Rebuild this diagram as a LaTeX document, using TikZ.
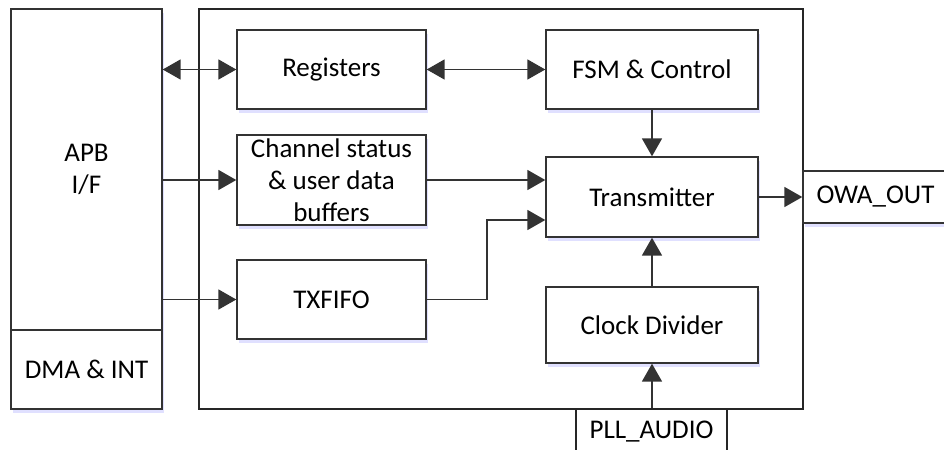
\documentclass[tikz,border=0pt]{standalone}
\usepackage{fontspec}
\setmainfont{Carlito}
\usetikzlibrary{arrows.meta,positioning,calc,shadows}

\begin{document}
\begin{tikzpicture}[
  x=0.5pt, y=-0.5pt,
  font=\fontsize{13.5}{16}\selectfont,
  block/.style={rectangle, draw=black!80, line width=0.7pt, fill=white, align=center, inner sep=0pt, drop shadow={shadow xshift=0.8pt, shadow yshift=-2pt, fill=blue!12, opacity=1}},
  frame/.style={rectangle, draw=black!85, line width=0.7pt, fill=white, align=center, inner sep=0pt},
  arrow/.style={-{Triangle[length=9pt,width=10pt]}, line width=0.9pt, draw=black!80},
  biarrow/.style={{Triangle[length=9pt,width=10pt]}-{Triangle[length=9pt,width=10pt]}, line width=0.9pt, draw=black!80},
]
\useasboundingbox (0,0) rectangle (944,450);

% Core frame and pins
\node[frame, minimum width=302pt, minimum height=200pt] (core) at (501,209) {};
\node[frame, minimum width=75.5pt, minimum height=23pt] (pll) at (651.5,432) {PLL\_AUDIO};
\node[block, minimum width=72.5pt, minimum height=26pt] (owa) at (875.5,197) {OWA\_OUT};

% Bus side
\node[block, minimum width=75.5pt, minimum height=160.5pt] (apb) at (86.5,169.5) {APB\\I/F};
\node[block, minimum width=75.5pt, minimum height=39.5pt] (dma) at (86.5,369.5) {DMA \& INT};

% Left column
\node[block, minimum width=94.5pt, minimum height=39.5pt] (regs) at (331.5,69.5) {Registers};
\node[block, minimum width=94.5pt, minimum height=45pt] (chan) at (331.5,180) {Channel status\\\& user data\\buffers};
\node[block, minimum width=94.5pt, minimum height=39.5pt] (txfifo) at (331.5,299.5) {TXFIFO};

% Right column
\node[block, minimum width=106pt, minimum height=39.5pt] (fsm) at (652,69.5) {FSM \& Control};
\node[block, minimum width=106pt, minimum height=40pt] (tx) at (652,197) {Transmitter};
\node[block, minimum width=106pt, minimum height=38pt] (clkdiv) at (652,325) {Clock Divider};

% Arrows
\draw[biarrow] (apb.east |- regs.west) -- (regs.west);
\draw[biarrow] (regs.east) -- (regs.east -| fsm.west);
\draw[arrow] (apb.east |- chan.west) -- (chan.west);
\draw[arrow] (apb.east |- txfifo.west) -- (txfifo.west);
\draw[arrow] (chan.east) -- (chan.east -| tx.west);
\draw[arrow] (txfifo.east) -- ++(30pt,0) |- ([yshift=-11.5pt]tx.west);
\draw[arrow] (fsm.south) -- (tx.north);
\draw[arrow] (clkdiv.north) -- (tx.south);
\draw[arrow] (clkdiv.south |- pll.north) -- (clkdiv.south);
\draw[arrow] (tx.east) -- (owa.west);

\end{tikzpicture}
\end{document}
